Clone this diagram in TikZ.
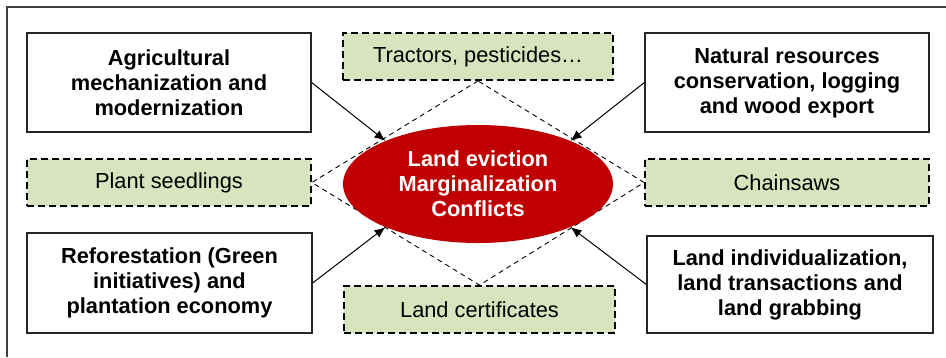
\documentclass[tikz,border=0pt]{standalone}
\usepackage{fontspec}
\setmainfont{Liberation Sans}
\usetikzlibrary{arrows.meta,shapes.geometric}
\definecolor{leafgreen}{HTML}{D7E4BD}
\definecolor{deepred}{HTML}{C00000}
\definecolor{framegray}{HTML}{404040}
\tikzset{
  txt/.style={font=\fontsize{21.8}{25}\selectfont, align=center, inner sep=0pt},
  driver/.style={txt, font=\bfseries\fontsize{21.8}{25}\selectfont, draw=black!85, line width=1.3pt, fill=white},
  tool/.style={txt, draw=black, line width=1.8pt, dash pattern=on 7pt off 4pt, fill=leafgreen},
  link/.style={black, dash pattern=on 5pt off 4pt, line width=0.9pt},
  push/.style={black, line width=1pt, -{Latex[length=11pt,width=9pt]}},
}
\begin{document}
\begin{tikzpicture}[x=1pt,y=-1pt]
\useasboundingbox (0,0) rectangle (946,357);
% outer frame (top and left edges visible)
\draw[framegray, line width=1.5pt] (946,7) -- (7,7) -- (7,357);

% tools along the diamond
\node[tool, minimum width=270, minimum height=47] (tractors) at (478,56.5) {Tractors, pesticides…};
\node[tool, minimum width=284, minimum height=47] (seedlings) at (169,182.5) {Plant seedlings};
\node[tool, minimum width=284, minimum height=47] (chainsaws) at (787,182.5) {Chainsaws};
\node[tool, minimum width=271, minimum height=47] (certs) at (479.5,309.5) {Land certificates};

% dashed diamond linking the tools
\draw[link] (tractors.south) -- (seedlings.east) -- (certs.north) -- (chainsaws.west) -- cycle;

% central outcome
\node[ellipse, fill=deepred, minimum width=270, minimum height=118, inner sep=0pt,
      txt, font=\bfseries\fontsize{21.8}{25}\selectfont, text=white] (core) at (478,184)
  {Land eviction\\Marginalization\\Conflicts};

% drivers
\node[driver, minimum width=284, minimum height=99] (agri) at (169,82.5)
  {Agricultural\\mechanization and\\modernization};
\node[driver, minimum width=284, minimum height=99] (nature) at (787,82.5)
  {Natural resources\\conservation, logging\\and wood export};
\node[driver, minimum width=285, minimum height=100] (refor) at (169.5,283)
  {Reforestation (Green\\initiatives) and\\plantation economy};
\node[driver, minimum width=286, minimum height=97] (indiv) at (790,284.5)
  {Land individualization,\\land transactions and\\land grabbing};

% driver arrows into the core
\draw[push] (agri.east) -- (core.155);
\draw[push] (nature.west) -- (core.25);
\draw[push] (refor.east) -- (core.205);
\draw[push] (indiv.west) -- (core.335);
\end{tikzpicture}
\end{document}
